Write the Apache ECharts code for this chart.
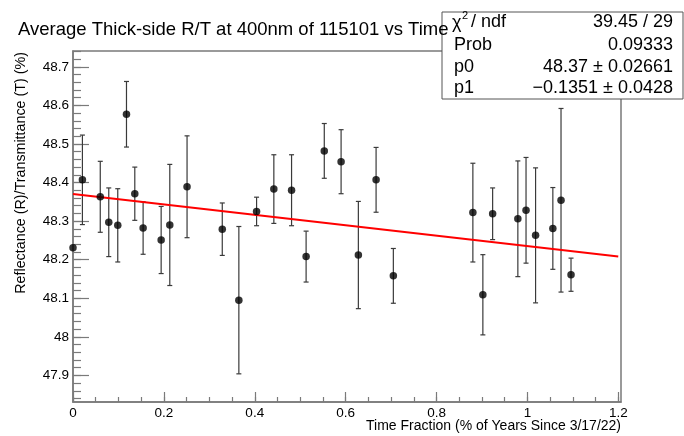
<!DOCTYPE html>
<html>
<head>
<meta charset="utf-8">
<script src="https://cdn.jsdelivr.net/npm/echarts@6/dist/echarts.min.js"></script>
<style>
html,body{margin:0;padding:0;background:#fff;}
#chart{width:684px;height:436px;}
</style>
</head>
<body>
<div id="chart"></div>
<script>
// ---- data ----
const timeFrac = [0, 0.0207, 0.060, 0.0787, 0.0985, 0.1177, 0.136, 0.1543, 0.194, 0.213, 0.251, 0.3285, 0.365, 0.404, 0.442, 0.481, 0.513, 0.553, 0.590, 0.628, 0.667, 0.705, 0.880, 0.902, 0.9235, 0.979, 0.997, 1.018, 1.056, 1.074, 1.096];
const rtValue = [48.231, 48.407, 48.363, 48.297, 48.289, 48.577, 48.371, 48.282, 48.251, 48.290, 48.389, 48.279, 48.095, 48.325, 48.383, 48.380, 48.208, 48.482, 48.454, 48.212, 48.407, 48.158, 48.322, 48.109, 48.319, 48.306, 48.328, 48.263, 48.281, 48.354, 48.161];
const rtError = [0, 0.116, 0.092, 0.089, 0.095, 0.085, 0.069, 0.068, 0.087, 0.157, 0.132, 0.068, 0.191, 0.037, 0.089, 0.092, 0.066, 0.071, 0.083, 0.139, 0.084, 0.071, 0.128, 0.104, 0.067, 0.150, 0.137, 0.175, 0.106, 0.238, 0.043];
const fitLineX = [0, 1.2];
const fitLineY = [48.37, 48.208];

const xTicks = [0, 0.2, 0.4, 0.6, 0.8, 1, 1.2];
const yTicks = [47.9, 48, 48.1, 48.2, 48.3, 48.4, 48.5, 48.6, 48.7];
const xRange = [0, 1.206];
const yRange = [47.831, 48.741];

const statsLabels = ['Prob', 'p0', 'p1'];
const statsValues = ['39.45 / 29', '0.09333', '48.37 \u00b1 0.02661', '\u22120.1351 \u00b1 0.0428'];

const titleText = 'Average Thick-side R/T at 400nm of 115101 vs Time';
const xTitle = 'Time Fraction (% of Years Since 3/17/22)';
const yTitle = 'Reflectance (R)/Transmittance (T) (%)';

// minor tick positions
function minors(lo, hi, step) {
  const out = [];
  const n0 = Math.ceil(lo / step - 1e-6), n1 = Math.floor(hi / step + 1e-6);
  for (let n = n0; n <= n1; n++) out.push(+(n * step).toFixed(4));
  return out;
}
const xMinor = minors(xRange[0], xRange[1], 0.05);
const yMinor = minors(yRange[0], yRange[1], 0.02);

const FONT = "'Liberation Sans', Arial, Helvetica, sans-serif";
const frameColor = '#7a7a7a';

const points = timeFrac.map((x, i) => [x, rtValue[i], rtError[i]]);

const chart = echarts.init(document.getElementById('chart'), null, {renderer: 'canvas'});

const option = {
  backgroundColor: '#fff',
  animation: false,
  grid: {
    left: 73, top: 51, right: 63, bottom: 34,
    show: true, borderColor: frameColor, borderWidth: 1.5, backgroundColor: 'transparent'
  },
  xAxis: [{
    type: 'value', min: xRange[0], max: xRange[1],
    axisLine: {show: true, onZero: false, lineStyle: {color: frameColor, width: 1.5}},
    axisTick: {show: true, inside: true, length: 10, customValues: xTicks, lineStyle: {color: frameColor, width: 1.2}},
    axisLabel: {show: true, customValues: xTicks, margin: 4, color: '#000', fontSize: 13.5, fontFamily: FONT,
      formatter: v => String(+v.toFixed(2))},
    splitLine: {show: false}
  }, {
    type: 'value', min: xRange[0], max: xRange[1], position: 'bottom',
    axisLine: {show: false},
    axisTick: {show: true, inside: true, length: 5, customValues: xMinor, lineStyle: {color: frameColor, width: 1.2}},
    axisLabel: {show: false},
    splitLine: {show: false}
  }],
  yAxis: [{
    type: 'value', min: yRange[0], max: yRange[1],
    axisLine: {show: true, onZero: false, lineStyle: {color: frameColor, width: 1.5}},
    axisTick: {show: true, inside: true, length: 16, customValues: yTicks, lineStyle: {color: frameColor, width: 1.2}},
    axisLabel: {show: true, customValues: yTicks, margin: 4, color: '#000', fontSize: 13.5, fontFamily: FONT,
      formatter: v => String(+v.toFixed(2))},
    splitLine: {show: false}
  }, {
    type: 'value', min: yRange[0], max: yRange[1], position: 'left',
    axisLine: {show: false},
    axisTick: {show: true, inside: true, length: 8, customValues: yMinor, lineStyle: {color: frameColor, width: 1.2}},
    axisLabel: {show: false},
    splitLine: {show: false}
  }],
  series: [{
    type: 'custom',
    name: 'errors',
    xAxisIndex: 0, yAxisIndex: 0,
    data: points,
    z: 3,
    renderItem: function (params, api) {
      const x = api.value(0), y = api.value(1), e = api.value(2);
      if (!e) return null;
      const top = api.coord([x, y + e]);
      const bot = api.coord([x, y - e]);
      const cw = 2.5;
      const style = {stroke: '#3a3a3a', lineWidth: 1.2};
      return {
        type: 'group',
        children: [
          {type: 'line', shape: {x1: top[0], y1: top[1], x2: bot[0], y2: bot[1]}, style: style},
          {type: 'line', shape: {x1: top[0] - cw, y1: top[1], x2: top[0] + cw, y2: top[1]}, style: style},
          {type: 'line', shape: {x1: bot[0] - cw, y1: bot[1], x2: bot[0] + cw, y2: bot[1]}, style: style}
        ]
      };
    }
  }, {
    type: 'line',
    name: 'fit',
    data: fitLineX.map((x, i) => [x, fitLineY[i]]),
    symbol: 'none',
    lineStyle: {color: '#ff0000', width: 2},
    z: 4
  }, {
    type: 'scatter',
    name: 'points',
    data: points.map(p => [p[0], p[1]]),
    symbol: 'circle',
    symbolSize: 7.5,
    itemStyle: {color: '#000'},
    z: 5
  }],
  graphic: [
    // stats box
    {type: 'rect', shape: {x: 442, y: 12, width: 241, height: 87}, style: {fill: '#fff', stroke: '#555', lineWidth: 1}, z: 100},
    {type: 'text', x: 452, y: 23, z: 101, style: {text: '\u03c7', fontSize: 18, fontFamily: FONT, fill: '#000', verticalAlign: 'middle'}},
    {type: 'text', x: 462, y: 16, z: 101, style: {text: '2', fontSize: 11, fontFamily: FONT, fill: '#000', verticalAlign: 'middle'}},
    {type: 'text', x: 471, y: 22, z: 101, style: {text: '/ ndf', fontSize: 18, fontFamily: FONT, fill: '#000', verticalAlign: 'middle'}},
    {type: 'text', x: 454, y: 45, z: 101, style: {text: statsLabels[0], fontSize: 18, fontFamily: FONT, fill: '#000', verticalAlign: 'middle'}},
    {type: 'text', x: 454, y: 67, z: 101, style: {text: statsLabels[1], fontSize: 18, fontFamily: FONT, fill: '#000', verticalAlign: 'middle'}},
    {type: 'text', x: 454, y: 88, z: 101, style: {text: statsLabels[2], fontSize: 18, fontFamily: FONT, fill: '#000', verticalAlign: 'middle'}},
    {type: 'text', x: 673, y: 22, z: 101, style: {text: statsValues[0], fontSize: 18, fontFamily: FONT, fill: '#000', align: 'right', verticalAlign: 'middle'}},
    {type: 'text', x: 673, y: 45, z: 101, style: {text: statsValues[1], fontSize: 18, fontFamily: FONT, fill: '#000', align: 'right', verticalAlign: 'middle'}},
    {type: 'text', x: 673, y: 67, z: 101, style: {text: statsValues[2], fontSize: 18, fontFamily: FONT, fill: '#000', align: 'right', verticalAlign: 'middle'}},
    {type: 'text', x: 673, y: 88, z: 101, style: {text: statsValues[3], fontSize: 18, fontFamily: FONT, fill: '#000', align: 'right', verticalAlign: 'middle'}},
    // title (drawn over the box)
    {type: 'text', x: 18, y: 30, z: 110, style: {text: titleText, fontSize: 18.5, fontFamily: FONT, fill: '#000', verticalAlign: 'middle'}},
    // axis titles
    {type: 'text', x: 621, y: 426, z: 50, style: {text: xTitle, fontSize: 14, fontFamily: FONT, fill: '#000', align: 'right', verticalAlign: 'middle'}},
    {type: 'text', x: 21, y: 52, rotation: Math.PI / 2, z: 50, style: {text: yTitle, fontSize: 14.3, fontFamily: FONT, fill: '#000', align: 'right', verticalAlign: 'middle'}}
  ]
};
chart.setOption(option);
</script>
</body>
</html>
